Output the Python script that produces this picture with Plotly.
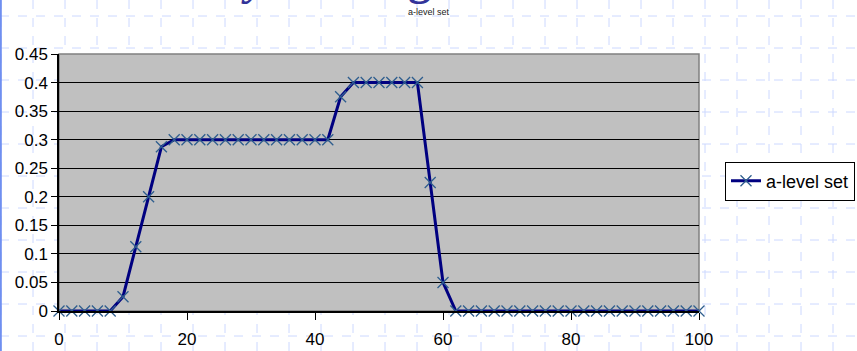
import plotly.graph_objects as go

x_vals = [0, 2, 4, 6, 8, 10, 12, 14, 16, 18, 20, 22, 24, 26, 28, 30, 32, 34, 36, 38,
          40, 42, 44, 46, 48, 50, 52, 54, 56, 58, 60, 62, 64, 66, 68, 70, 72, 74, 76, 78,
          80, 82, 84, 86, 88, 90, 92, 94, 96, 98, 100]
y_vals = [0, 0, 0, 0, 0, 0.025, 0.1125, 0.2, 0.2875, 0.3, 0.3, 0.3, 0.3, 0.3, 0.3, 0.3,
          0.3, 0.3, 0.3, 0.3, 0.3, 0.3, 0.375, 0.4, 0.4, 0.4, 0.4, 0.4, 0.4, 0.225, 0.05,
          0, 0, 0, 0, 0, 0, 0, 0, 0, 0, 0, 0, 0, 0, 0, 0, 0, 0, 0, 0]
series_name = "a-level set"
chart_title = "a-level set"

W, H = 857, 351
L, R, T, B = 59, 158, 54, 40
PW, PH = W - L - R, H - T - B


def px_x(p):
    return (p - L) / PW


def px_y(p):
    return (H - B - p) / PH


fig = go.Figure()
fig.add_trace(go.Scatter(
    x=x_vals, y=y_vals, name=series_name, mode="lines+markers",
    line=dict(color="#000080", width=3),
    marker=dict(symbol="x-thin", size=11, line=dict(color="#2F5E8E", width=1.3)),
    cliponaxis=False,
))

shapes = []
# slide background dashed grid
for k in range(0, 28):
    xp = 1 + 32 * k
    shapes.append(dict(type="line", xref="paper", yref="paper", layer="below",
                       x0=px_x(xp), x1=px_x(xp), y0=px_y(0), y1=px_y(H),
                       line=dict(color="#CCD8FF", width=1, dash="dash")))
for k in range(0, 11):
    yp = 16 + 32 * k
    shapes.append(dict(type="line", xref="paper", yref="paper", layer="below",
                       x0=px_x(0), x1=px_x(W), y0=px_y(yp), y1=px_y(yp),
                       line=dict(color="#CCD8FF", width=1, dash="dash")))
shapes.append(dict(type="line", xref="paper", yref="paper", layer="below",
                   x0=px_x(0.8), x1=px_x(0.8), y0=px_y(0), y1=px_y(H),
                   line=dict(color="#6F8FF0", width=2)))
# plot area fill
shapes.append(dict(type="rect", xref="x domain", yref="y domain", layer="below",
                   x0=0, x1=1, y0=0, y1=1, fillcolor="#C0C0C0",
                   line=dict(color="#808080", width=1.5)))

fig.update_layout(
    width=W, height=H,
    margin=dict(l=L, r=R, t=T, b=B, autoexpand=False),
    paper_bgcolor="white", plot_bgcolor="rgba(0,0,0,0)",
    font=dict(family="Liberation Sans, Arial, sans-serif", size=17, color="black"),
    title=dict(text=chart_title, x=0.5, xanchor="center", y=1 - 12 / H, yanchor="middle",
               font=dict(size=9, color="#222222")),
    shapes=shapes,
    showlegend=True,
    legend=dict(x=px_x(725), y=px_y(181), xanchor="left", yanchor="middle",
                bgcolor="white", bordercolor="black", borderwidth=1,
                font=dict(size=18), itemwidth=30, tracegroupgap=0),
    annotations=[
        dict(text="<b><i>y</i></b>", xref="paper", yref="paper", x=px_x(254), y=px_y(6),
             xanchor="center", yanchor="bottom", showarrow=False,
             font=dict(family="Liberation Serif", size=46, color="#333399")),
        dict(text="<b>g</b>", xref="paper", yref="paper", x=px_x(419), y=px_y(6),
             xanchor="center", yanchor="bottom", showarrow=False,
             font=dict(family="Liberation Serif", size=46, color="#333399")),
    ],
)
fig.update_xaxes(range=[0, 100], tick0=0, dtick=20, showgrid=False, zeroline=False,
                 showline=True, linecolor="black", linewidth=1.5,
                 ticks="outside", ticklen=7, tickcolor="black", ticklabelstandoff=5,
                 tickfont=dict(size=17))
fig.update_yaxes(range=[0, 0.45], tick0=0, dtick=0.05, showgrid=True, gridcolor="black",
                 gridwidth=1, zeroline=False, showline=True, linecolor="black", linewidth=1.5,
                 ticks="outside", ticklen=6, tickcolor="black", tickfont=dict(size=17))

fig.write_html("out.html")
